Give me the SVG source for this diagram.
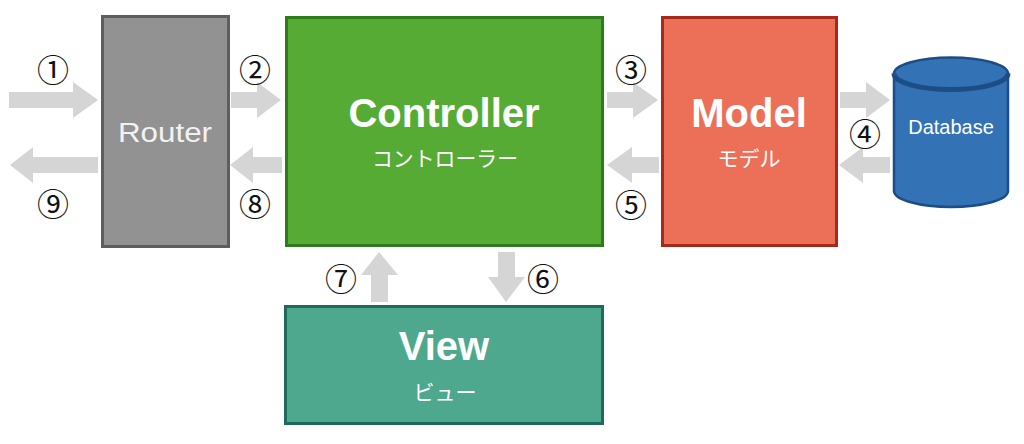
<svg xmlns="http://www.w3.org/2000/svg" width="1024" height="444" viewBox="0 0 1024 444">
<style>
.num{font-family:"Noto Sans CJK JP","DejaVu Sans",sans-serif;font-size:32px;fill:#111;text-anchor:middle;dominant-baseline:central}
.title{font-family:"Liberation Sans",Arial,sans-serif;font-weight:bold;font-size:40px;fill:#fff;text-anchor:middle}
.sub{font-family:"Noto Sans CJK JP",sans-serif;font-size:21px;fill:#fff;text-anchor:middle}
.arrow{fill:#d5d5d5}
</style>
<rect width="1024" height="444" fill="#fff"/>
<g id="connectors">
  <polygon class="arrow" points="9,92 73,92 73,82 98,100 73,118 73,108 9,108"/>
  <polygon class="arrow" points="98,157 33,157 33,147 10,165 33,183 33,173 98,173"/>
  <polygon class="arrow" points="231,92 257,92 257,82 281,100 257,118 257,108 231,108"/>
  <polygon class="arrow" points="282,157 253,157 253,147 230,165 253,183 253,173 282,173"/>
  <polygon class="arrow" points="607,92 633,92 633,82 658,100 633,118 633,108 607,108"/>
  <polygon class="arrow" points="659,157 632,157 632,147 607,165 632,183 632,173 659,173"/>
  <polygon class="arrow" points="840,92 866,92 866,82 890,100 866,118 866,108 840,108"/>
  <polygon class="arrow" points="890,157 863,157 863,147 839,165 863,183 863,173 890,173"/>
  <polygon class="arrow" points="371,302 371,275 361,275 379,252 398,275 388,275 388,302"/>
  <polygon class="arrow" points="498,252 515,252 515,277 525,277 506,302 488,277 498,277"/>
  <text class="num" x="53" y="68">①</text>
  <text class="num" x="255" y="68">②</text>
  <text class="num" x="631" y="68">③</text>
  <text class="num" x="865" y="132">④</text>
  <text class="num" x="631" y="203">⑤</text>
  <text class="num" x="543" y="277">⑥</text>
  <text class="num" x="341" y="277">⑦</text>
  <text class="num" x="255" y="202">⑧</text>
  <text class="num" x="53" y="202">⑨</text>
</g>
<g id="router">
  <rect x="102.5" y="16.5" width="126" height="230" fill="#929292" stroke="#5e5e5e" stroke-width="3"/>
  <text x="165" y="142" font-family="Liberation Sans, Arial, sans-serif" font-size="27" fill="#f2f2f2" text-anchor="middle" textLength="94" lengthAdjust="spacingAndGlyphs">Router</text>
</g>
<g id="controller">
  <rect x="286.5" y="17.5" width="316" height="228" fill="#55ab33" stroke="#2e7a1f" stroke-width="3"/>
  <text class="title" x="444" y="127">Controller</text>
  <text class="sub" x="445" y="166" textLength="146" lengthAdjust="spacingAndGlyphs">コントローラー</text>
</g>
<g id="model">
  <rect x="662.5" y="17.5" width="174" height="228" fill="#ec6f57" stroke="#a62a1c" stroke-width="3"/>
  <text class="title" x="749" y="127">Model</text>
  <text class="sub" x="749" y="166">モデル</text>
</g>
<g id="database">
  <path d="M894,73.5 L894,191 A57,16 0 0 0 1008,191 L1008,73.5 Z" fill="#3372b5" stroke="#1d4d85" stroke-width="2.5"/>
  <ellipse cx="951" cy="73.5" rx="57" ry="16" fill="#3372b5" stroke="#1d4d85" stroke-width="2.5"/>
  <path d="M894,73.5 A57,16 0 0 0 1008,73.5" fill="none" stroke="#1d4d85" stroke-width="5"/>
  <text x="951" y="134" font-family="Liberation Sans, Arial, sans-serif" font-size="20" fill="#fff" text-anchor="middle">Database</text>
</g>
<g id="view">
  <rect x="285.5" y="306.5" width="317" height="117" fill="#4ea88e" stroke="#1f6a5c" stroke-width="3"/>
  <text class="title" x="444" y="360">View</text>
  <text class="sub" x="445" y="400">ビュー</text>
</g>
</svg>
